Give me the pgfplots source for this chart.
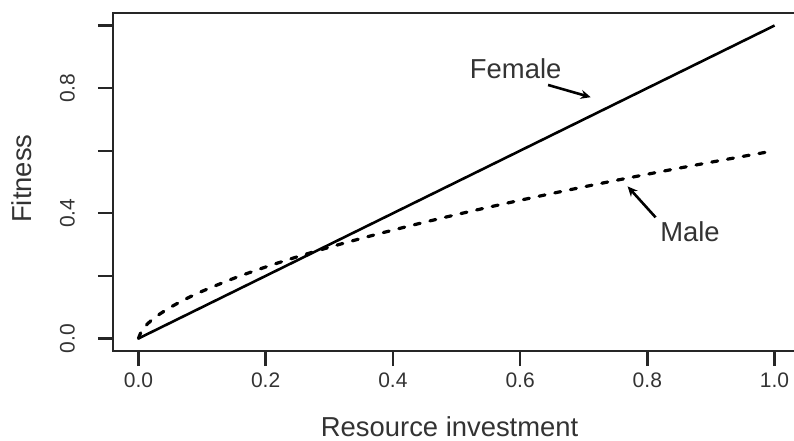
\documentclass[border=0pt]{standalone}
\usepackage{fontspec}
\setmainfont{Liberation Sans}
\usepackage{pgfplots}
\pgfplotsset{compat=1.18}
\usetikzlibrary{arrows.meta}
\definecolor{txt}{HTML}{333333}
\begin{document}
\begin{tikzpicture}
\begin{axis}[
  scale only axis,
  width=343.5pt, height=169pt,
  xmin=-0.04, xmax=1.04, ymin=-0.04, ymax=1.04,
  axis line style={line width=1.2pt, black!85},
  every tick/.style={line width=1.2pt, black!85},
  tick align=outside, major tick length=7.5pt,
  xtick={0,0.2,0.4,0.6,0.8,1.0},
  xticklabels={{\mbox{0.0}},{\mbox{0.2}},{\mbox{0.4}},{\mbox{0.6}},{\mbox{0.8}},{\mbox{1.0}}},
  ytick={0,0.2,0.4,0.6,0.8,1.0},
  yticklabels={{\mbox{0.0}},,{\mbox{0.4}},,{\mbox{0.8}},},
  xtick pos=bottom, ytick pos=left,
  ticklabel style={font=\fontsize{10.5}{12}\selectfont, text=txt},
  yticklabel style={rotate=90, anchor=south},
  yticklabel shift=8pt,
  xlabel={Resource investment},
  ylabel={Fitness},
  label style={font=\fontsize{13.7}{16}\selectfont, text=txt},
  xlabel style={at={(axis description cs:0.49,0)}, anchor=base, yshift=-42.5pt},
  ylabel style={at={(axis description cs:-0.118,0.51)}, anchor=base, rotate=0},
  clip=false,
]
\addplot[line width=1.3pt, black] coordinates {(0,0) (1,1)};
\addplot[line width=1.6pt, black, line cap=round, dash pattern=on 3pt off 5pt, smooth] coordinates {
(0,0) (0.005,0.025) (0.01,0.0379) (0.02,0.0574) (0.03,0.0732) (0.05,0.0994)
(0.075,0.1268) (0.1,0.1507) (0.15,0.1923) (0.2,0.2284) (0.25,0.2612)
(0.3,0.2914) (0.35,0.3196) (0.4,0.3463) (0.45,0.3716) (0.5,0.3959)
(0.55,0.4192) (0.6,0.4416) (0.65,0.4633) (0.7,0.4844) (0.75,0.5049)
(0.8,0.5248) (0.85,0.5443) (0.9,0.5632) (0.95,0.5818) (1,0.6)};
\node[font=\fontsize{13.7}{16}\selectfont, text=txt] at (axis cs:0.593,0.863) {Female};
\draw[line width=1.3pt, black, -{Stealth[length=5pt,width=4.5pt]}] (axis cs:0.644,0.810) -- (axis cs:0.711,0.771);
\node[font=\fontsize{13.7}{16}\selectfont, text=txt] at (axis cs:0.867,0.34) {Male};
\draw[line width=1.3pt, black, -{Stealth[length=5pt,width=4.5pt]}] (axis cs:0.813,0.387) -- (axis cs:0.769,0.486);
\end{axis}
\pgfresetboundingbox
\useasboundingbox (-56.5pt,-44.5pt) rectangle (340.5pt,175.5pt);
\end{tikzpicture}
\end{document}
